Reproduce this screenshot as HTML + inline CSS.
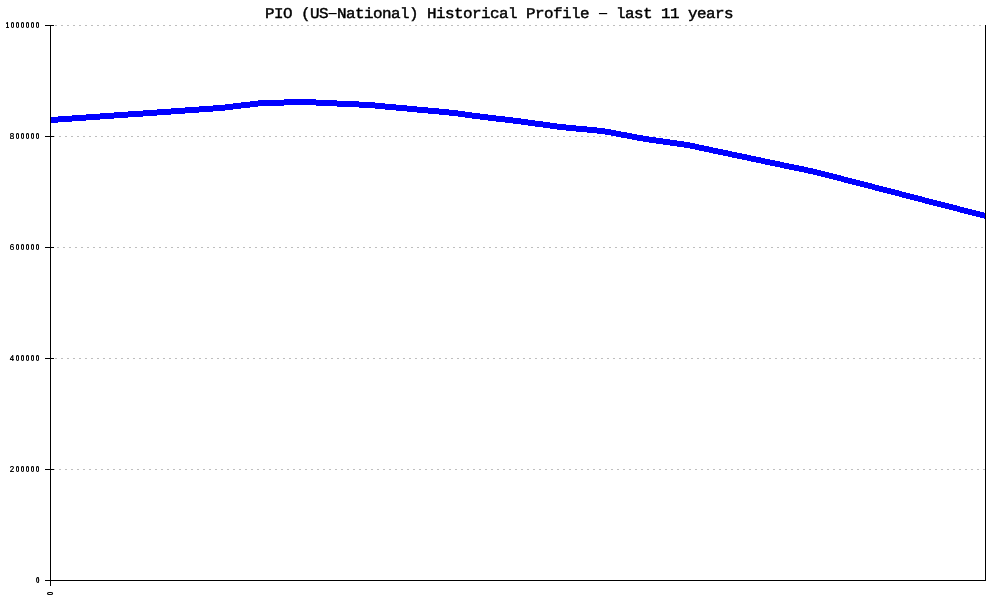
<!DOCTYPE html>
<html lang="en">
<head>
<meta charset="utf-8">
<title>PIO (US-National) Historical Profile - last 11 years</title>
<style>
html,body{margin:0;padding:0;background:#fff;}
body{width:1000px;height:600px;position:relative;overflow:hidden;font-family:"Liberation Mono",monospace;color:#000;}
#chart{position:absolute;left:0;top:0;width:1000px;height:600px;}
#title{position:absolute;left:265px;top:6px;width:470px;height:17px;line-height:17px;font-size:15px;font-weight:normal;-webkit-text-stroke:0.45px #000;white-space:pre;letter-spacing:-0.511px;text-rendering:geometricPrecision;transform:scaleX(1.06);transform-origin:0 50%;will-change:transform;}
.ylw{position:absolute;left:0;top:0;width:60px;height:600px;will-change:transform;}
.yl{position:absolute;right:20px;height:8px;line-height:8px;font-family:"Liberation Sans",sans-serif;font-size:8.5px;font-weight:bold;letter-spacing:2.218px;white-space:pre;text-rendering:geometricPrecision;text-shadow:0 0 0 #000;transform:translate(1.097px,0) scale(0.72,1);transform-origin:100% 50%;}
#title .dash{display:inline-block;text-rendering:auto;transform:translate(0.1px,0) scale(1.9,1);transform-origin:50% 50%;-webkit-text-stroke:0;}
.yl .w{display:inline-block;font-weight:normal;transform:scaleX(1.3);transform-origin:4.8px 50%;}
#xl{position:absolute;left:48px;top:589px;width:5px;height:8px;line-height:8px;font-family:"Liberation Sans",sans-serif;font-size:8.5px;font-weight:bold;text-align:center;white-space:pre;text-rendering:geometricPrecision;text-shadow:0 0 0 #000;transform:translate(-1px,0.5px) rotate(-90deg) scale(0.72,1);transform-origin:50% 50%;}
</style>
</head>
<body>
<svg id="chart" width="1000" height="600" viewBox="0 0 1000 600" shape-rendering="crispEdges">
<rect x="0" y="0" width="1000" height="600" fill="#ffffff"/>
<g id="grid">
<line x1="55" y1="25.5" x2="985" y2="25.5" stroke="#bebebe" stroke-width="1" stroke-dasharray="2 4"/>
<line x1="53" y1="136.5" x2="985" y2="136.5" stroke="#bebebe" stroke-width="1" stroke-dasharray="2 4"/>
<line x1="57" y1="247.5" x2="985" y2="247.5" stroke="#bebebe" stroke-width="1" stroke-dasharray="2 4"/>
<line x1="55" y1="358.5" x2="985" y2="358.5" stroke="#bebebe" stroke-width="1" stroke-dasharray="2 4"/>
<line x1="53" y1="469.5" x2="985" y2="469.5" stroke="#bebebe" stroke-width="1" stroke-dasharray="2 4"/>
</g>
<polygon id="series" fill="#0000ff" points="50,117 58,117 58,116 72,116 72,115 86,115 86,114 100,114 100,113 114,113 114,112 128,112 128,111 143,111 143,110 157,110 157,109 171,109 171,108 185,108 185,107 199,107 199,106 213,106 213,105 225,105 225,104 233,104 233,103 241,103 241,102 250,102 250,101 258,101 258,100 284,100 284,99 316,99 316,100 337,100 337,101 359,101 359,102 375,102 375,103 385,103 385,104 396,104 396,105 407,105 407,106 417,106 417,107 428,107 428,108 439,108 439,109 449,109 449,110 458,110 458,111 465,111 465,112 472,112 472,113 480,113 480,114 488,114 488,115 496,115 496,116 505,116 505,117 513,117 513,118 521,118 521,119 528,119 528,120 535,120 535,121 543,121 543,122 550,122 550,123 557,123 557,124 566,124 566,125 576,125 576,126 587,126 587,127 597,127 597,128 605,128 605,129 611,129 611,130 616,130 616,131 621,131 621,132 627,132 627,133 632,133 632,134 637,134 637,135 643,135 643,136 649,136 649,137 656,137 656,138 663,138 663,139 670,139 670,140 677,140 677,141 684,141 684,142 690,142 690,143 695,143 695,144 699,144 699,145 704,145 704,146 709,146 709,147 713,147 713,148 718,148 718,149 723,149 723,150 728,150 728,151 732,151 732,152 737,152 737,153 742,153 742,154 747,154 747,155 751,155 751,156 756,156 756,157 761,157 761,158 765,158 765,159 770,159 770,160 775,160 775,161 780,161 780,162 784,162 784,163 789,163 789,164 794,164 794,165 799,165 799,166 804,166 804,167 808,167 808,168 813,168 813,169 817,169 817,170 821,170 821,171 825,171 825,172 829,172 829,173 833,173 833,174 837,174 837,175 841,175 841,176 844,176 844,177 848,177 848,178 852,178 852,179 856,179 856,180 860,180 860,181 864,181 864,182 868,182 868,183 872,183 872,184 875,184 875,185 879,185 879,186 883,186 883,187 887,187 887,188 891,188 891,189 895,189 895,190 899,190 899,191 902,191 902,192 906,192 906,193 910,193 910,194 914,194 914,195 918,195 918,196 922,196 922,197 925,197 925,198 929,198 929,199 933,199 933,200 937,200 937,201 941,201 941,202 945,202 945,203 949,203 949,204 953,204 953,205 957,205 957,206 960,206 960,207 964,207 964,208 968,208 968,209 972,209 972,210 976,210 976,211 980,211 980,212 984,212 984,213 986,213 986,219 984,219 984,218 980,218 980,217 976,217 976,216 972,216 972,215 968,215 968,214 964,214 964,213 960,213 960,212 957,212 957,211 953,211 953,210 949,210 949,209 945,209 945,208 941,208 941,207 937,207 937,206 933,206 933,205 929,205 929,204 925,204 925,203 922,203 922,202 918,202 918,201 914,201 914,200 910,200 910,199 906,199 906,198 902,198 902,197 899,197 899,196 895,196 895,195 891,195 891,194 887,194 887,193 883,193 883,192 879,192 879,191 875,191 875,190 872,190 872,189 868,189 868,188 864,188 864,187 860,187 860,186 856,186 856,185 852,185 852,184 848,184 848,183 844,183 844,182 841,182 841,181 837,181 837,180 833,180 833,179 829,179 829,178 825,178 825,177 821,177 821,176 817,176 817,175 813,175 813,174 808,174 808,173 804,173 804,172 799,172 799,171 794,171 794,170 789,170 789,169 784,169 784,168 780,168 780,167 775,167 775,166 770,166 770,165 765,165 765,164 761,164 761,163 756,163 756,162 751,162 751,161 747,161 747,160 742,160 742,159 737,159 737,158 732,158 732,157 728,157 728,156 723,156 723,155 718,155 718,154 713,154 713,153 709,153 709,152 704,152 704,151 699,151 699,150 695,150 695,149 690,149 690,148 684,148 684,147 677,147 677,146 670,146 670,145 663,145 663,144 656,144 656,143 649,143 649,142 643,142 643,141 637,141 637,140 632,140 632,139 627,139 627,138 621,138 621,137 616,137 616,136 611,136 611,135 605,135 605,134 597,134 597,133 587,133 587,132 576,132 576,131 566,131 566,130 557,130 557,129 550,129 550,128 543,128 543,127 535,127 535,126 528,126 528,125 521,125 521,124 513,124 513,123 505,123 505,122 496,122 496,121 488,121 488,120 480,120 480,119 472,119 472,118 465,118 465,117 458,117 458,116 449,116 449,115 439,115 439,114 428,114 428,113 417,113 417,112 407,112 407,111 396,111 396,110 385,110 385,109 375,109 375,108 359,108 359,107 337,107 337,106 316,106 316,105 284,105 284,106 258,106 258,107 250,107 250,108 241,108 241,109 233,109 233,110 225,110 225,111 213,111 213,112 199,112 199,113 185,113 185,114 171,114 171,115 157,115 157,116 143,116 143,117 128,117 128,118 114,118 114,119 100,119 100,120 86,120 86,121 72,121 72,122 58,122 58,123 50,123"/>
<g id="axes" fill="#000000">
<rect x="50" y="25" width="1" height="561"/>
<rect x="985" y="25" width="1" height="556"/>
<rect x="50" y="580" width="936" height="1"/>
<rect x="45" y="25" width="9" height="1"/>
<rect x="45" y="136" width="9" height="1"/>
<rect x="45" y="247" width="9" height="1"/>
<rect x="45" y="358" width="9" height="1"/>
<rect x="45" y="469" width="9" height="1"/>
<rect x="45" y="580" width="9" height="1"/>
</g>
</svg>
<div id="title">PIO (US<span class="dash">-</span>National) Historical Profile <span class="dash">-</span> last 11 years</div>
<div class="ylw">
<div class="yl" style="top:21px">1000000</div>
<div class="yl" style="top:132px"><span class="w">8</span>00000</div>
<div class="yl" style="top:243px"><span class="w">6</span>00000</div>
<div class="yl" style="top:354px"><span class="w">4</span>00000</div>
<div class="yl" style="top:465px"><span class="w">2</span>00000</div>
<div class="yl" style="top:576px">0</div>
<div id="xl">0</div>
</div>
</body>
</html>
